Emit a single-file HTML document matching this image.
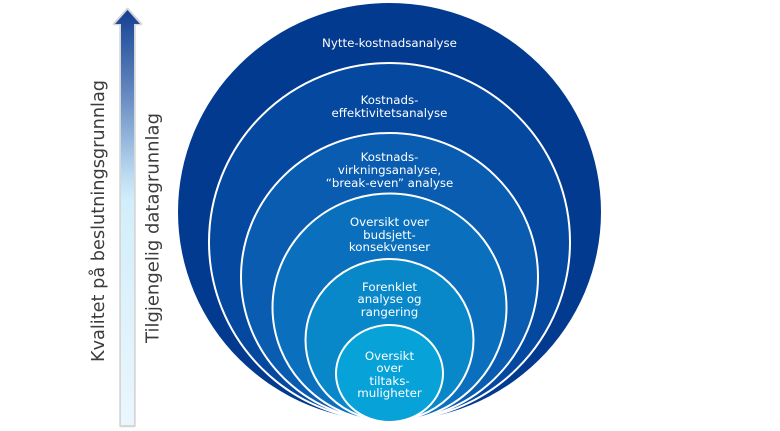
<!DOCTYPE html>
<html>
<head>
<meta charset="utf-8">
<style>
  html,body{margin:0;padding:0;background:#fff;}
  svg{display:block;}
  .c{font-family:"DejaVu Sans","Liberation Sans",sans-serif;font-size:11.8px;fill:#ffffff;text-anchor:middle;}
  .s{font-family:"DejaVu Sans","Liberation Sans",sans-serif;font-size:17.5px;fill:#3c3c3c;text-anchor:middle;}
</style>
</head>
<body>
<svg width="780" height="431" viewBox="0 0 780 431" xmlns="http://www.w3.org/2000/svg">
  <defs>
    <linearGradient id="ag" x1="0" y1="10" x2="0" y2="425" gradientUnits="userSpaceOnUse">
      <stop offset="0" stop-color="#123f90"/>
      <stop offset="0.055" stop-color="#2a55a0"/>
      <stop offset="0.176" stop-color="#5a7fba"/>
      <stop offset="0.296" stop-color="#8eb0d8"/>
      <stop offset="0.40" stop-color="#bcdcf2"/>
      <stop offset="0.46" stop-color="#d2eefb"/>
      <stop offset="1" stop-color="#eaf6fd"/>
    </linearGradient>
  </defs>

  <!-- arrow -->
  <polygon points="127.5,9 141,24 134.5,24 134.5,426 120.5,426 120.5,24 114,24" fill="none" stroke="#d6d6d6" stroke-width="2.5" stroke-linejoin="round"/>
  <polygon points="127.5,10 140,24 134,24 134,425 121,425 121,24 115,24" fill="url(#ag)"/>

  <!-- side labels -->
  <text class="s" transform="translate(104,221) rotate(-90)" textLength="282" lengthAdjust="spacingAndGlyphs">Kvalitet på beslutningsgrunnlag</text>
  <text class="s" transform="translate(158.5,228) rotate(-90)" textLength="230" lengthAdjust="spacingAndGlyphs">Tilgjengelig datagrunnlag</text>

  <!-- nested ellipses -->
  <ellipse cx="389.5" cy="212" rx="211.5" ry="209" fill="#023a8f"/>
  <ellipse cx="389.5" cy="242" rx="180.5" ry="179" fill="#0548a0" stroke="#ffffff" stroke-width="2"/>
  <ellipse cx="389.5" cy="277" rx="148.5" ry="144" fill="#095cb0" stroke="#ffffff" stroke-width="2"/>
  <ellipse cx="389.5" cy="307.5" rx="117" ry="114" fill="#0a70bd" stroke="#ffffff" stroke-width="2"/>
  <ellipse cx="389.5" cy="340" rx="84" ry="81" fill="#0988c9" stroke="#ffffff" stroke-width="2"/>
  <ellipse cx="389.5" cy="373.5" rx="53.5" ry="48.5" fill="#06a2d8" stroke="#ffffff" stroke-width="2"/>

  <!-- labels -->
  <text class="c" x="389.5" y="47">Nytte-kostnadsanalyse</text>

  <text class="c" x="389.5" y="104">Kostnads-</text>
  <text class="c" x="389.5" y="117">effektivitetsanalyse</text>

  <text class="c" x="389.5" y="161">Kostnads-</text>
  <text class="c" x="389.5" y="174">virkningsanalyse,</text>
  <text class="c" x="389.5" y="187">“break-even” analyse</text>

  <text class="c" x="389.5" y="226">Oversikt over</text>
  <text class="c" x="389.5" y="239">budsjett-</text>
  <text class="c" x="389.5" y="251">konsekvenser</text>

  <text class="c" x="389.5" y="291">Forenklet</text>
  <text class="c" x="389.5" y="303">analyse og</text>
  <text class="c" x="389.5" y="316">rangering</text>

  <text class="c" x="389.5" y="360">Oversikt</text>
  <text class="c" x="389.5" y="372">over</text>
  <text class="c" x="389.5" y="385">tiltaks-</text>
  <text class="c" x="389.5" y="397">muligheter</text>
</svg>
</body>
</html>
